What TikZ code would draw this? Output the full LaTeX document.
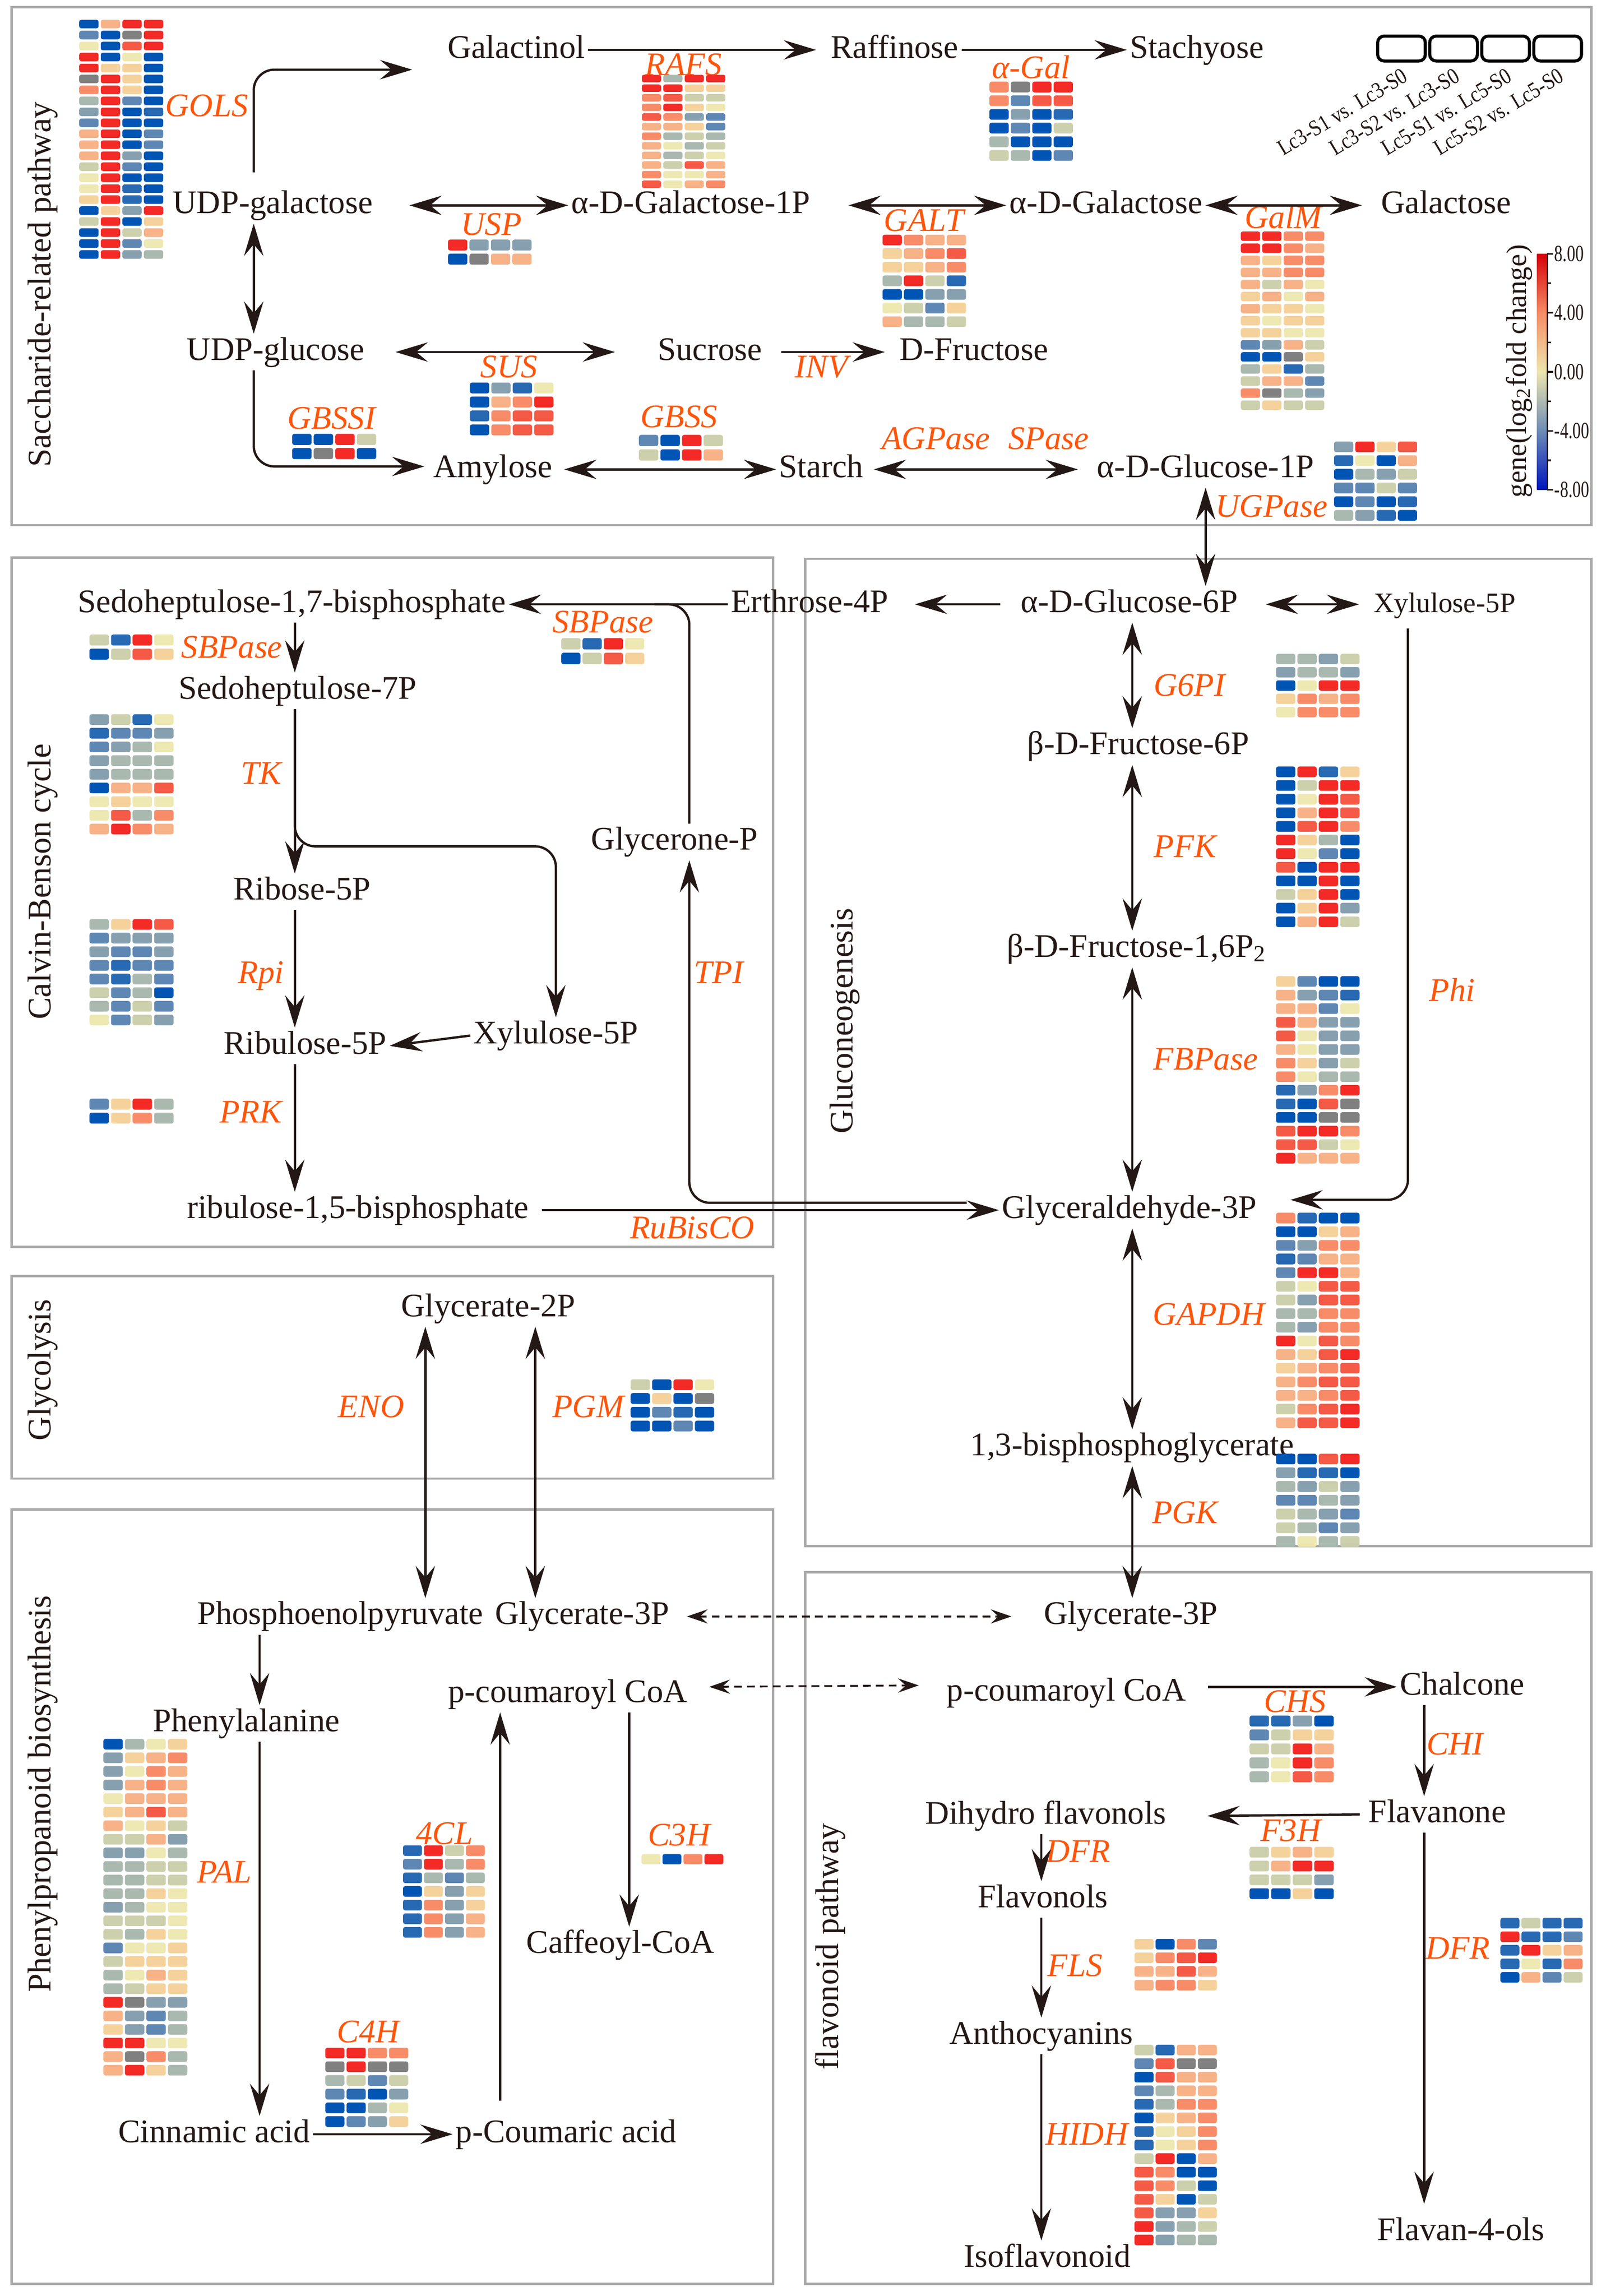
\documentclass[tikz,border=0pt]{standalone}
\usepackage{fontspec}
\setmainfont{Liberation Serif}
\usetikzlibrary{arrows.meta}

% colours
\definecolor{inkblack}{RGB}{35,24,21}
\definecolor{enzorange}{RGB}{255,85,10}
\definecolor{framegray}{RGB}{168,168,168}
\definecolor{hA}{RGB}{0,85,180}
\definecolor{hB}{RGB}{40,105,180}
\definecolor{hC}{RGB}{95,135,180}
\definecolor{hD}{RGB}{135,160,175}
\definecolor{hE}{RGB}{170,185,175}
\definecolor{hF}{RGB}{205,208,172}
\definecolor{hY}{RGB}{238,232,178}
\definecolor{hL}{RGB}{245,210,155}
\definecolor{hO}{RGB}{247,178,135}
\definecolor{hP}{RGB}{248,140,105}
\definecolor{hQ}{RGB}{245,90,70}
\definecolor{hR}{RGB}{243,42,37}
\definecolor{hG}{RGB}{128,128,128}
\definecolor{cbred}{RGB}{215,0,10}
\definecolor{cborange}{RGB}{245,140,100}
\definecolor{cbyel}{RGB}{238,230,175}
\definecolor{cbsteel}{RGB}{110,140,180}
\definecolor{cbblue}{RGB}{0,20,190}

\newcommand{\metfont}{\fontsize{12.8}{15}\selectfont}
% heat map: x, y of top left cell, column step, row step, rows
\newcommand{\hmap}[5]{%
  \foreach \hrow [count=\hi from 0] in {#5}{%
    \foreach \hcell [count=\hj from 0] in \hrow{%
      \fill[fill=h\hcell, rounded corners=0.8pt] ({#1+\hj*#3},{#2+\hi*#4}) rectangle ++({0.9*#3},{0.78*#4});
    }%
  }%
}

\begin{document}
\begin{tikzpicture}[x=0.02cm, y=-0.02cm,
  >={Stealth[length=12.5pt,width=7.5pt,inset=4.5pt]},
  met/.style={font=\metfont, text=inkblack, inner sep=1pt, text height=9pt, text depth=2.8pt},
  enz/.style={met, font=\metfont\itshape, text=enzorange},
  sect/.style={met, rotate=90},
  arr/.style={draw=inkblack, line width=0.9pt, ->},
  darr/.style={draw=inkblack, line width=0.9pt, <->},
  ln/.style={draw=inkblack, line width=0.9pt},
  dsh/.style={draw=inkblack, line width=0.7pt, dash pattern=on 3pt off 2pt,
    {Stealth[length=8pt,width=5.5pt,inset=3pt]}-{Stealth[length=8pt,width=5.5pt,inset=3pt]}},
  panel/.style={draw=framegray, line width=0.9pt},
  legbox/.style={draw=black, line width=1.2pt, rounded corners=2.5pt},
  legtxt/.style={font=\fontsize{8.8}{10}\selectfont, text=inkblack, inner sep=0.5pt},
  tickl/.style={font=\fontsize{9}{10}\selectfont, text=inkblack, inner sep=0.5pt, xscale=0.72}]
\useasboundingbox (0,0) rectangle (1095,1565.3);

% panels
\draw[panel] (8,5) rectangle (1085,358);
\draw[panel] (8,380) rectangle (527,850);
\draw[panel] (549,381) rectangle (1085,1054);
\draw[panel] (8,870) rectangle (527,1008);
\draw[panel] (8,1029) rectangle (527,1557);
\draw[panel] (549,1072) rectangle (1085,1557);

\node[sect] (secsac) at (29,194) {Saccharide-related pathway};
\node[sect] (seccal) at (29,601) {Calvin-Benson cycle};
\node[sect] (secgly) at (29,934) {Glycolysis};
\node[sect] (secphe) at (29,1223) {Phenylpropanoid biosynthesis};
\node[sect] (secglu) at (576,696) {Gluconeogenesis};
\node[sect] (secfla) at (566,1327) {flavonoid pathway};

% x positions of the vertical paths
\coordinate (cx) at (201,0);
\coordinate (gx) at (772,0);
\coordinate (ax) at (290,0);
\coordinate (bx) at (365,0);
\coordinate (px) at (177,0);
\coordinate (lx) at (341,0);
\coordinate (qx) at (429,0);
\coordinate (fx) at (971,0);
\coordinate (vx) at (710,0);
\coordinate (tkbend) at (201,577);

% saccharide-related pathway
\node[met] (galactinol) at (352,34) {Galactinol};
\node[met] (raffinose) at (610,34) {Raffinose};
\node[met] (stachyose) at (816,34) {Stachyose};
\node[met] (ugal) at (186,140) {UDP-galactose};
\node[met] (gal1p) at (471,140) {α-D-Galactose-1P};
\node[met] (agal) at (754,140) {α-D-Galactose};
\node[met] (galactose) at (986,140) {Galactose};
\node[met] (uglc) at (188,240) {UDP-glucose};
\node[met] (sucrose) at (484,240) {Sucrose};
\node[met] (dfru) at (664,240) {D-Fructose};
\node[met] (amylose) at (336,320) {Amylose};
\node[met] (starch) at (560,320) {Starch};
\node[met] (glc1p) at (822,320) {α-D-Glucose-1P};

\node[enz] (gols) at (141,74) {GOLS};
\node[enz] (rafs) at (466,46) {RAFS};
\node[enz] (agalz) at (703,48) {α-Gal};
\node[enz] (usp) at (335,155) {USP};
\node[enz] (galt) at (630,152) {GALT};
\node[enz] (galm) at (875,150) {GalM};
\node[enz] (sus) at (347,252) {SUS};
\node[enz] (inv) at (560,252) {INV};
\node[enz] (gbssi) at (226,287) {GBSSI};
\node[enz] (gbss) at (463,286) {GBSS};
\node[enz] (agpase) at (638,301) {AGPase};
\node[enz] (spase) at (715,301) {SPase};
\node[enz] (ugpase) at (867,347) {UGPase};

\draw[arr, rounded corners=8pt] ([shift={(-13,-10)}]ugal.north) |- ([shift={(-22,13.5)}]galactinol.west);
\draw[arr] (galactinol.east) -- ([shift={(-8,0)}]raffinose.west);
\draw[arr] (raffinose.east) -- (stachyose.west);
\draw[darr] ([shift={(23,0)}]ugal.east) -- (gal1p.west);
\draw[darr] ([shift={(24,0)}]gal1p.east) -- (agal.west);
\draw[darr] (agal.east) -- ([shift={(-11,0)}]galactose.west);
\draw[darr] ([shift={(-13,0)}]ugal.south) -- ([shift={(-15,0)}]uglc.north);
\draw[darr] ([shift={(19,0)}]uglc.east) -- ([shift={(-27,0)}]sucrose.west);
\draw[arr] ([shift={(11,0)}]sucrose.east) -- ([shift={(-8,0)}]dfru.west);
\draw[arr, rounded corners=8pt] ([shift={(-15,0)}]uglc.south) |- ([shift={(-4,-2)}]amylose.west);
\draw[darr] ([shift={(6,0)}]amylose.east) -- (starch.west);
\draw[darr] ([shift={(5,0)}]starch.east) -- ([shift={(-11,0)}]glc1p.west);

% Calvin-Benson cycle
\node[met] (sbp) at (199,412) {Sedoheptulose-1,7-bisphosphate};
\node[met] (e4p) at (552,412) {Erthrose-4P};
\node[met] (gl6p) at (770,412) {α-D-Glucose-6P};
\node[met, font=\fontsize{11}{13}\selectfont] (xu5pR) at (985,412) {Xylulose-5P};
\node[met] (s7p) at (203,471) {Sedoheptulose-7P};
\node[met] (r5p) at (206,608) {Ribose-5P};
\node[met] (ru5p) at (208,713) {Ribulose-5P};
\node[met] (xu5pL) at (379,706) {Xylulose-5P};
\node[met] (glyp) at (460,574) {Glycerone-P};
\node[met] (rubp) at (244,825) {ribulose-1,5-bisphosphate};
\node[met] (ga3p) at (770,825) {Glyceraldehyde-3P};

\node[enz] (sbpase) at (158,443) {SBPase};
\node[enz] (sbpaseb) at (411,426) {SBPase};
\node[enz] (tk) at (178,529) {TK};
\node[enz] (rpi) at (178,665) {Rpi};
\node[enz] (prk) at (171,760) {PRK};
\node[enz] (tpi) at (490,665) {TPI};
\node[enz] (rubisco) at (472,839) {RuBisCO};

\draw[darr] (glc1p.south) -- (glc1p.south |- gl6p.north);
\draw[arr] (e4p.west) -- (sbp.east);
\draw[ln, rounded corners=8pt] ([shift={(10,0)}]glyp.north) |- ([shift={(-50,0)}]e4p.west);
\draw[arr] ([shift={(-12,0)}]gl6p.west) -- ([shift={(16,0)}]e4p.east);
\draw[darr] ([shift={(17,0)}]gl6p.east) -- ([shift={(-8,0)}]xu5pR.west);
\draw[arr] (sbp.south -| cx) -- (s7p.north -| cx);
\draw[arr] (s7p.south -| cx) -- (r5p.north -| cx);
\draw[arr, rounded corners=8pt] (s7p.south -| cx) -- (tkbend) -| (xu5pL.north);
\draw[arr] (r5p.south -| cx) -- (ru5p.north -| cx);
\draw[arr] (xu5pL.west) -- (ru5p.east);
\draw[arr] (ru5p.south -| cx) -- (rubp.north -| cx);
\draw[arr] ([shift={(7,0)}]rubp.east) -- (ga3p.west);
\draw[arr, rounded corners=8pt] ([shift={(-22,-5)}]ga3p.west) -| ([shift={(10,0)}]glyp.south);

% gluconeogenesis
\node[met] (f6p) at (776,509) {β-D-Fructose-6P};
\node[met] (fbp) at (775,647) {β-D-Fructose-1,6P\textsubscript{2}};
\node[met] (bpg) at (772,987) {1,3-bisphosphoglycerate};
\node[met] (g3pR) at (771,1102) {Glycerate-3P};

\node[enz] (g6pi) at (811,469) {G6PI};
\node[enz] (pfk) at (808,579) {PFK};
\node[enz] (fbpase) at (822,724) {FBPase};
\node[enz] (gapdh) at (824,898) {GAPDH};
\node[enz] (pgk) at (808,1033) {PGK};
\node[enz] (phi) at (990,677) {Phi};

\draw[darr] (gl6p.south -| gx) -- (f6p.north -| gx);
\draw[darr] (f6p.south -| gx) -- (fbp.north -| gx);
\draw[darr] (fbp.south -| gx) -- (ga3p.north -| gx);
\draw[darr] (ga3p.south -| gx) -- (bpg.north -| gx);
\draw[darr] (bpg.south -| gx) -- (g3pR.north -| gx);
\draw[arr, rounded corners=8pt] ([shift={(-25,4)}]xu5pR.south) |- ([shift={(21,-7)}]ga3p.east);

% glycolysis
\node[met] (g2p) at (333,892) {Glycerate-2P};
\node[enz] (eno) at (253,961) {ENO};
\node[enz] (pgm) at (401,961) {PGM};

% phenylpropanoid biosynthesis
\node[met] (pep) at (232,1102) {Phosphoenolpyruvate};
\node[met] (g3pL) at (397,1102) {Glycerate-3P};
\node[met] (phe) at (168,1175) {Phenylalanine};
\node[met] (cin) at (146,1455) {Cinnamic acid};
\node[met] (pcou) at (386,1455) {p-Coumaric acid};
\node[met] (pcoaL) at (387,1155) {p-coumaroyl CoA};
\node[met] (caf) at (423,1326) {Caffeoyl-CoA};

\node[enz] (pal) at (153,1278) {PAL};
\node[enz] (fourcl) at (303,1252) {4CL};
\node[enz] (cthreeh) at (463,1253) {C3H};
\node[enz] (cfourh) at (251,1387) {C4H};

\draw[darr] (g2p.south -| ax) -- (pep.north -| ax);
\draw[darr] (g2p.south -| bx) -- (g3pL.north -| bx);
\draw[dsh] ([shift={(10,0)}]g3pL.east) -- ([shift={(-20,0)}]g3pR.west);
\draw[arr] (pep.south -| px) -- (phe.north -| px);
\draw[arr] (phe.south -| px) -- (cin.north -| px);
\draw[arr] (cin.east) -- (pcou.west);
\draw[arr, shorten <=6pt] (pcou.north -| lx) -- (pcoaL.south -| lx);
\draw[arr] (pcoaL.south -| qx) -- (caf.north -| qx);

% flavonoid pathway
\node[met] (pcoaR) at (727,1154) {p-coumaroyl CoA};
\node[met] (chalcone) at (997,1150) {Chalcone};
\node[met] (flavanone) at (980,1237) {Flavanone};
\node[met] (dhf) at (713,1238) {Dihydro flavonols};
\node[met] (flavonols) at (711,1295) {Flavonols};
\node[met] (antho) at (710,1388) {Anthocyanins};
\node[met] (iso) at (714,1540) {Isoflavonoid};
\node[met] (flavan) at (996,1522) {Flavan-4-ols};

\node[enz] (chs) at (883,1162) {CHS};
\node[enz] (chi) at (992,1191) {CHI};
\node[enz] (fthreeh) at (880,1250) {F3H};
\node[enz] (dfr) at (735,1264) {DFR};
\node[enz] (fls) at (733,1342) {FLS};
\node[enz] (hidh) at (741,1457) {HIDH};
\node[enz] (dfrb) at (994,1330) {DFR};

\draw[dsh] ([shift={(13,-5)}]pcoaL.east) -- ([shift={(-17,-5)}]pcoaR.west);
\draw[arr] ([shift={(13,-4)}]pcoaR.east) -- (chalcone.west);
\draw[arr] (chalcone.south -| fx) -- (flavanone.north -| fx);
\draw[arr] ([shift={(-4,0)}]flavanone.west) -- ([shift={(26,0)}]dhf.east);
\draw[arr] (dhf.south -| vx) -- (flavonols.north -| vx);
\draw[arr] (flavonols.south -| vx) -- (antho.north -| vx);
\draw[arr] (antho.south -| vx) -- (iso.north -| vx);
\draw[arr, shorten >=4pt] (flavanone.south -| fx) -- (flavan.north -| fx);

% heat maps
\hmap{54}{13.5}{14.7}{7.48}{{A,O,R,R},{C,A,G,R},{Y,A,Q,R},{R,A,Y,A},{R,L,L,A},{G,R,L,A},{P,R,L,A},{E,R,C,A},{D,R,A,B},{C,R,A,A},{O,R,A,C},{O,R,A,C},{O,R,D,A},{F,R,C,A},{Y,R,A,A},{Y,R,B,A},{L,R,B,A},{A,L,D,R},{F,R,A,L},{A,R,F,O},{A,R,C,Y},{A,R,D,E}}
\hmap{437.6}{51}{14.6}{6.55}{{R,E,R,R},{R,R,L,L},{P,Q,F,F},{P,R,L,Y},{Q,P,D,C},{O,O,L,C},{P,E,F,E},{O,Y,E,F},{O,E,F,Y},{O,F,Q,O},{P,Y,Y,O},{Q,Y,O,P}}
\hmap{674.6}{55.7}{14.6}{9.33}{{P,G,R,R},{P,C,Q,Q},{A,D,A,B},{A,C,A,F},{E,A,A,A},{F,E,A,C}}
\hmap{305.5}{163.3}{14.6}{9.6}{{R,D,D,D},{A,G,O,O}}
\hmap{601.7}{160}{14.6}{9.28}{{R,P,O,O},{L,O,P,Q},{L,L,O,P},{E,R,F,B},{A,A,D,D},{Y,F,C,L},{O,E,E,F}}
\hmap{846}{157.8}{14.6}{8.23}{{R,R,P,P},{R,R,P,O},{O,L,P,P},{O,O,P,P},{O,F,O,Y},{L,O,Y,O},{O,L,L,Y},{L,Y,L,L},{L,L,Y,Y},{C,D,O,F},{A,A,G,L},{E,L,B,E},{F,O,O,C},{P,G,E,D},{F,L,F,F}}
\hmap{320.4}{260.8}{14.6}{9.52}{{A,D,B,Y},{A,O,P,R},{B,P,Q,Q},{A,P,Q,Q}}
\hmap{199.2}{295.8}{14.7}{9.66}{{A,A,R,F},{A,G,R,A}}
\hmap{435.6}{296.5}{14.7}{9.83}{{C,A,R,F},{F,A,R,O}}
\hmap{909.6}{301}{14.5}{9.34}{{D,R,L,Q},{B,Y,A,O},{A,E,D,F},{C,C,F,C},{A,C,A,B},{E,D,B,A}}
\hmap{61}{432.6}{14.7}{9.6}{{F,B,R,Y},{A,F,Q,L}}
\hmap{382.7}{435}{14.5}{10}{{F,B,R,Y},{A,F,Q,L}}
\hmap{61}{486.9}{14.7}{9.33}{{D,F,B,Y},{B,C,C,D},{C,D,E,Y},{D,E,E,E},{D,E,E,E},{A,O,O,Q},{Y,L,Y,Y},{Y,Q,E,P},{O,R,P,O}}
\hmap{61}{626.6}{14.7}{9.3}{{E,L,R,Q},{C,D,D,D},{D,C,C,D},{C,B,C,C},{C,B,E,C},{F,C,E,A},{E,C,F,C},{Y,C,F,D}}
\hmap{61}{749}{14.7}{9.55}{{C,L,R,E},{A,L,P,E}}
\hmap{870}{445.7}{14.6}{9.06}{{E,E,D,F},{D,E,E,D},{A,Y,R,R},{L,P,O,P},{Y,P,P,P}}
\hmap{870}{522.6}{14.6}{9.29}{{A,R,B,L},{A,F,R,R},{A,Y,R,Q},{A,O,R,Q},{A,Q,R,P},{R,L,E,A},{R,Y,C,A},{Q,A,R,R},{A,A,R,A},{F,L,R,A},{A,L,R,D},{A,O,R,F}}
\hmap{870}{665.5}{14.6}{9.27}{{L,C,A,A},{O,D,C,B},{O,O,C,Y},{Q,O,D,D},{Q,Y,D,D},{O,Y,D,D},{P,L,D,F},{P,Y,E,E},{B,D,P,R},{B,A,Q,G},{A,A,G,G},{Q,R,R,P},{Q,Q,F,Y},{R,O,O,O}}
\hmap{870}{826.8}{14.6}{9.3}{{P,B,A,A},{A,A,L,O},{C,D,P,P},{B,C,O,O},{C,R,R,O},{F,Y,Q,Q},{F,D,Q,Q},{E,E,P,P},{E,D,P,P},{R,Y,Q,P},{O,L,Q,R},{L,O,P,Q},{O,P,Q,Q},{O,O,P,Q},{F,P,Q,R},{O,Q,Q,R}}
\hmap{870}{991}{14.6}{9.38}{{A,A,Q,R},{D,B,B,A},{E,D,F,D},{C,C,E,D},{F,E,D,C},{F,E,C,D},{E,Y,E,F}}
\hmap{430}{940.4}{14.6}{9.37}{{F,A,R,Y},{A,L,A,G},{A,C,B,A},{A,A,C,A}}
\hmap{70.5}{1185.5}{14.67}{9.26}{{A,E,Y,L},{D,L,O,P},{D,Y,P,O},{D,O,P,O},{Y,O,O,O},{L,O,Q,O},{O,Y,L,F},{F,F,O,D},{D,D,Y,E},{E,E,F,F},{E,E,F,F},{E,E,L,Y},{D,E,Y,Y},{F,F,F,Y},{F,E,L,Y},{C,Y,Y,L},{F,L,L,L},{E,Y,O,L},{E,F,L,L},{R,G,D,D},{O,D,C,E},{L,D,C,E},{R,R,Y,Y},{O,G,P,E},{O,R,L,E}}
\hmap{274.8}{1258}{14.3}{9.29}{{B,R,F,P},{C,R,E,P},{B,E,C,E},{A,L,D,L},{B,P,D,L},{B,P,D,O},{B,P,D,O}}
\hmap{437.4}{1264}{14.3}{9}{{Y,A,P,R}}
\hmap{221.8}{1396}{14.5}{9.34}{{R,R,P,P},{G,R,G,G},{E,F,C,F},{C,B,A,D},{A,A,E,Y},{A,C,D,L}}
\hmap{852}{1169.6}{14.7}{9.5}{{B,B,D,A},{C,F,L,L},{F,F,R,O},{E,Y,R,P},{E,Y,Q,P}}
\hmap{852}{1259}{14.7}{9.44}{{F,L,O,L},{F,O,R,R},{F,F,F,D},{A,A,L,A}}
\hmap{773.5}{1321.8}{14.4}{9.3}{{L,A,P,C},{L,P,Q,R},{O,O,Q,O},{O,P,P,L}}
\hmap{1023}{1307.5}{14.36}{9.24}{{B,F,B,B},{R,B,B,C},{B,R,L,O},{B,Y,B,P},{A,O,C,F}}
\hmap{773.5}{1394}{14.4}{9.25}{{F,B,O,O},{C,Q,G,G},{A,Q,O,O},{C,E,O,O},{B,E,P,P},{A,L,O,P},{B,Y,L,P},{B,Y,L,P},{F,R,A,O},{Q,P,A,A},{Q,P,F,A},{Q,L,A,F},{Q,D,D,L},{R,D,E,F},{R,D,E,E}}

% legend
\foreach \k in {0,...,3}
  \draw[legbox] ({939.3+35.5*\k},24.6) rectangle ++(32.5,17);
\foreach \s [count=\k from 0] in {Lc3-S1 vs. Lc3-S0, Lc3-S2 vs. Lc3-S0, Lc5-S1 vs. Lc5-S0, Lc5-S2 vs. Lc5-S0}
  \node[legtxt, rotate=31, xscale=0.85, anchor=east] (cmp\k) at ({959+35.5*\k},50) {\s};

\shade[top color=cbred, bottom color=cbyel, middle color=cborange] (1048,173) rectangle (1055,253.5);
\shade[top color=cbyel, bottom color=cbblue, middle color=cbsteel] (1048,253.5) rectangle (1055,334);
\draw[inkblack, line width=0.6pt] (1055,173) -- (1055,334);
\foreach \t in {0,2,4,6,8}
  \draw[inkblack, line width=0.6pt] (1055,{173+\t*20.125}) -- ++(4,0);
\foreach \t in {1,3,5,7}
  \draw[inkblack, line width=0.6pt] (1055,{173+\t*20.125}) -- ++(2.5,0);
\foreach \v/\t in {8.00/0, 4.00/2, 0.00/4, -4.00/6, -8.00/8}
  \node[tickl, anchor=west] (tick\t) at (1059,{173+\t*20.125}) {\v};
\node[met, font=\fontsize{11}{13}\selectfont, rotate=90] (cbtitle) at (1035,253) {gene(log\textsubscript{2}fold change)};
\end{tikzpicture}
\end{document}
